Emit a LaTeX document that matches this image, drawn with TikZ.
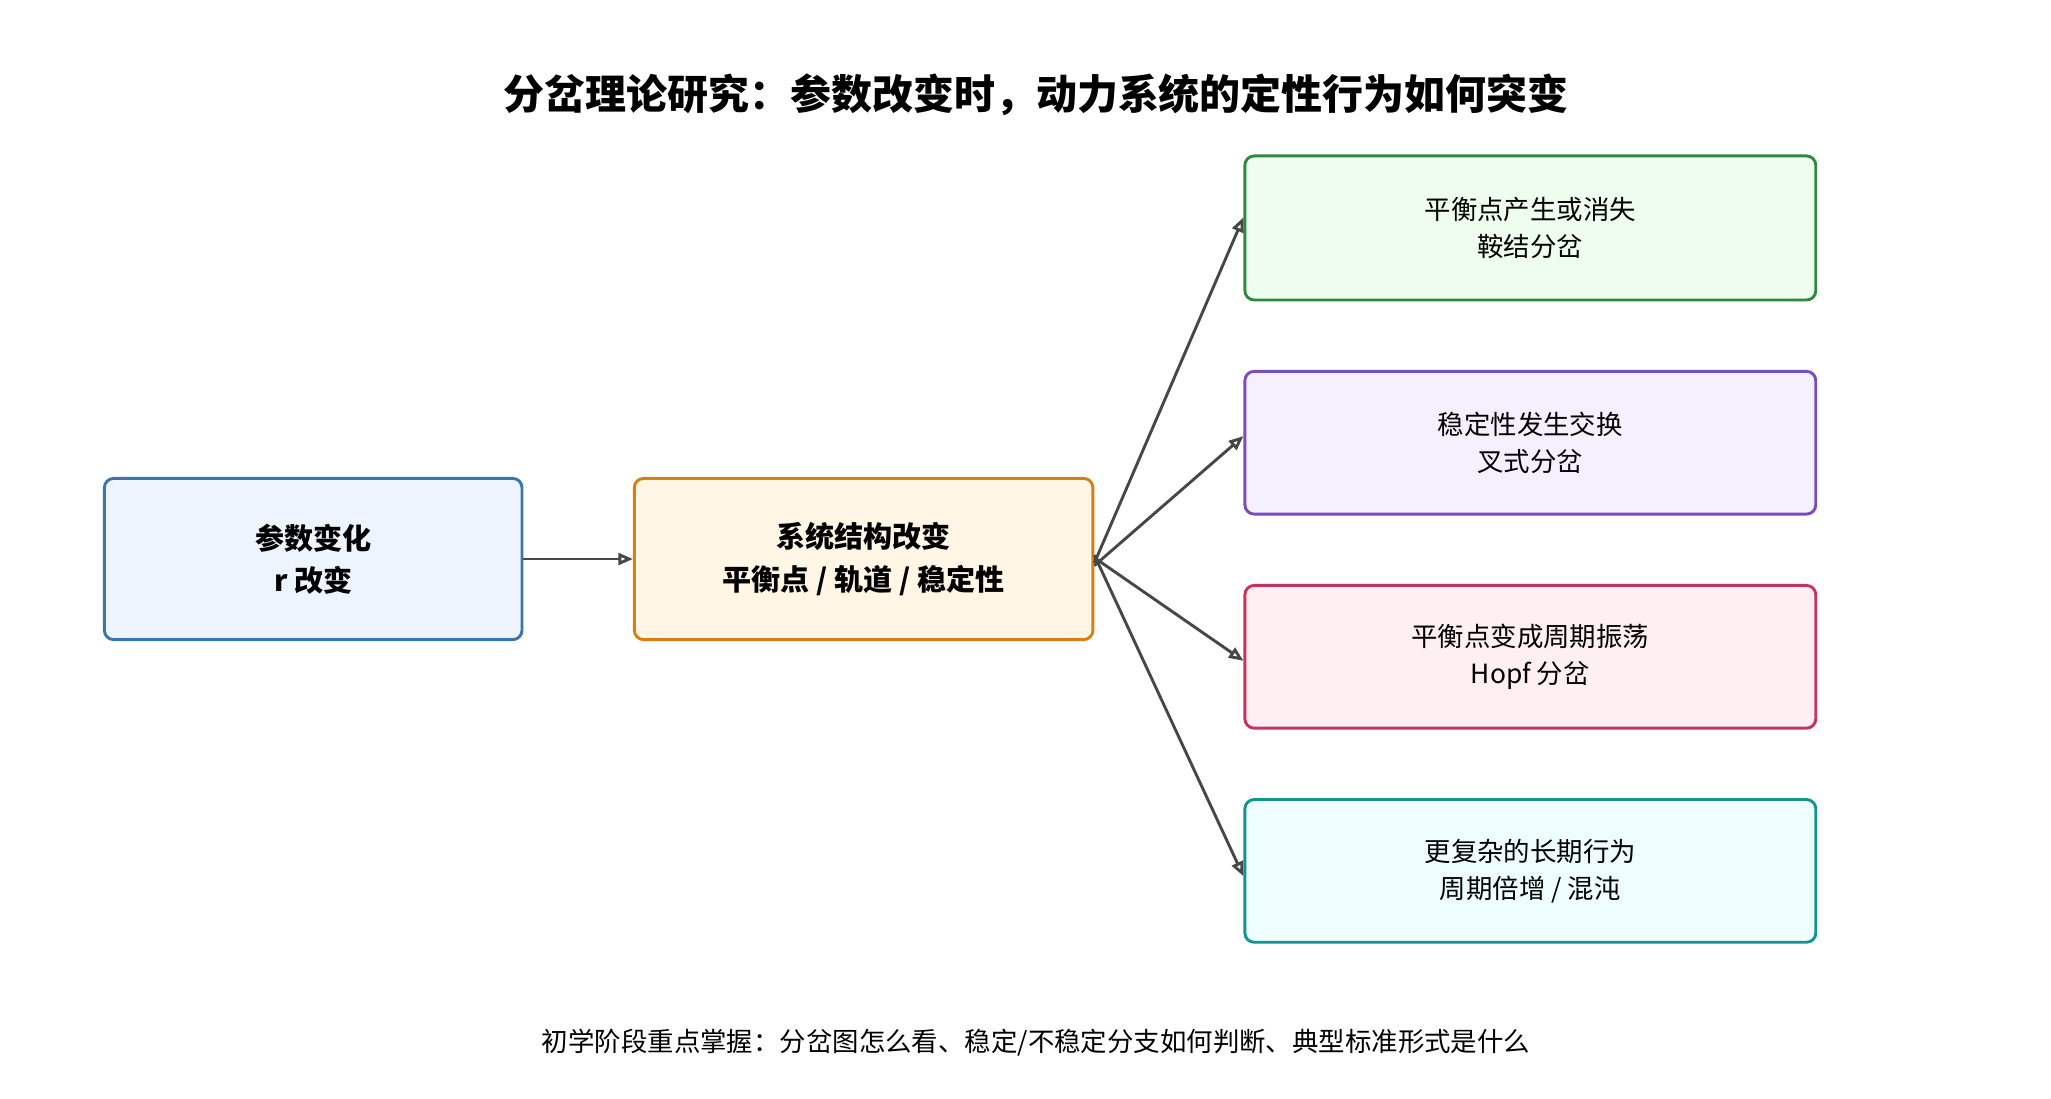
\documentclass[tikz,border=0pt]{standalone}
\usepackage{fontspec}
\setmainfont{Noto Sans CJK SC}
\usetikzlibrary{arrows.meta}
\definecolor{bB}{HTML}{3A75B0}\definecolor{fB}{HTML}{EDF4FD}
\definecolor{bO}{HTML}{D4820F}\definecolor{fO}{HTML}{FFF6E5}
\definecolor{bG}{HTML}{2E8B3E}\definecolor{fG}{HTML}{EFFDEE}
\definecolor{bP}{HTML}{7B4BC0}\definecolor{fP}{HTML}{F5F0FE}
\definecolor{bR}{HTML}{C83260}\definecolor{fR}{HTML}{FEEFF3}
\definecolor{bT}{HTML}{12958F}\definecolor{fT}{HTML}{EEFDFD}
\begin{document}
\begin{tikzpicture}[x=1pt,y=-1pt,
 box/.style={draw=#1,line width=2.2pt,rounded corners=7pt,align=center,inner sep=0pt},
 big/.style={font=\fontsize{22}{32}\selectfont\bfseries},
 small/.style={font=\fontsize{20}{28}\selectfont},
 arr/.style={-{Stealth[length=11pt,width=9pt,inset=0pt,open]},line width=2.2pt,draw=black!72}]
\useasboundingbox (0,0) rectangle (1552,831);
\node[font=\fontsize{31}{36}\selectfont\bfseries] (t) at (784,72) {分岔理论研究：参数改变时，动力系统的定性行为如何突变};
\node[box=bB,fill=fB,minimum width=316pt,minimum height=122pt,big] (a) at (237,423) {参数变化\\\textit{r} 改变};
\node[box=bO,fill=fO,minimum width=347pt,minimum height=122pt,big] (b) at (653.5,423) {系统结构改变\\平衡点 / 轨道 / 稳定性};
\node[box=bG,fill=fG,minimum width=432pt,minimum height=109pt,small] (c1) at (1158,172.5) {平衡点产生或消失\\鞍结分岔};
\node[box=bP,fill=fP,minimum width=432pt,minimum height=108pt,small] (c2) at (1158,335) {稳定性发生交换\\叉式分岔};
\node[box=bR,fill=fR,minimum width=432pt,minimum height=108pt,small] (c3) at (1158,497) {平衡点变成周期振荡\\Hopf 分岔};
\node[box=bT,fill=fT,minimum width=432pt,minimum height=108pt,small] (c4) at (1158,659) {更复杂的长期行为\\周期倍增 / 混沌};
\node[font=\fontsize{20}{24}\selectfont] (f) at (784,789) {初学阶段重点掌握：分岔图怎么看、稳定/不稳定分支如何判断、典型标准形式是什么};
\draw[arr] (a.east) -- (b.west);
\draw[arr] ([yshift=-3pt]b.east) -- ([yshift=8pt]c1.west);
\draw[arr] ([yshift=-5pt]b.east) -- ([yshift=5pt]c2.west);
\draw[arr] ([yshift=1pt]b.east) -- ([yshift=-3pt]c3.west);
\draw[arr] ([yshift=3pt]b.east) -- ([yshift=-4pt]c4.west);
\end{tikzpicture}
\end{document}
